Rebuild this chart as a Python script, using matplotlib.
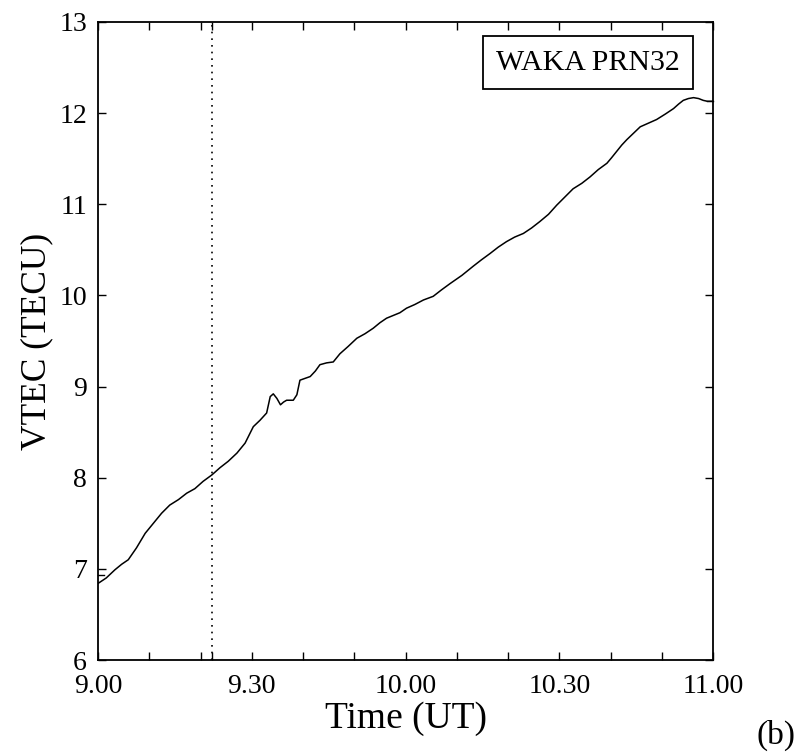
import matplotlib
matplotlib.use("Agg")
import matplotlib.pyplot as plt
import matplotlib.transforms as mtransforms
from matplotlib.ticker import FixedLocator

# VTEC time series, WAKA station, PRN32 (minutes after 09:00 UT, TECU)
minutes = [0.0, 1.6, 3.3, 4.6, 5.9, 7.5, 9.2, 10.8, 12.4, 14.0, 15.7, 17.3,
           18.9, 20.5, 22.2, 23.8, 25.4, 27.1, 28.7, 30.3, 31.6, 32.9, 33.6,
           34.2, 34.9, 35.6, 36.2, 36.8, 38.1, 38.8, 39.4, 40.4, 41.4, 42.4,
           43.3, 44.6, 45.9, 47.2, 48.8, 50.5, 52.1, 53.7, 55.0, 56.3, 57.6,
           58.9, 60.2, 61.8, 63.5, 65.4, 67.0, 68.7, 71.0, 73.2, 74.8, 76.5,
           78.1, 79.7, 81.3, 83.0, 84.6, 86.2, 87.9, 89.5, 91.1, 92.7, 94.4,
           96.0, 97.6, 99.3, 100.2, 101.2, 102.2, 103.2, 104.5, 105.8, 107.4,
           109.0, 110.7, 112.3, 113.3, 114.2, 115.2, 116.2, 117.2, 118.1,
           118.9, 120.0]
vtec = [6.84, 6.90, 6.99, 7.05, 7.10, 7.23, 7.39, 7.50, 7.61, 7.70, 7.76, 7.83,
        7.88, 7.96, 8.03, 8.11, 8.18, 8.27, 8.38, 8.56, 8.63, 8.71, 8.89,
        8.92, 8.87, 8.80, 8.83, 8.85, 8.85, 8.91, 9.07, 9.09, 9.11, 9.17,
        9.24, 9.26, 9.27, 9.36, 9.44, 9.53, 9.58, 9.64, 9.70, 9.75, 9.78,
        9.81, 9.86, 9.90, 9.95, 9.99, 10.06, 10.13, 10.22, 10.32, 10.39, 10.46,
        10.53, 10.59, 10.64, 10.68, 10.74, 10.81, 10.89, 10.99, 11.08, 11.17, 11.23,
        11.30, 11.38, 11.45, 11.51, 11.58, 11.65, 11.71, 11.78, 11.85, 11.89,
        11.93, 11.99, 12.05, 12.10, 12.14, 12.16, 12.17, 12.16, 12.14,
        12.13, 12.13]

event_minute = 22.2          # dotted marker line
label_text = "WAKA PRN32"
panel_tag = "(b)"

x_major = [0, 30, 60, 90, 120]
x_major_labels = ["9.00", "9.30", "10.00", "10.30", "11.00"]
x_minor = [10, 20, 40, 50, 70, 80, 100, 110]
y_ticks = [6, 7, 8, 9, 10, 11, 12, 13]

plt.rcParams["font.family"] = ["Liberation Serif", "DejaVu Serif"]

fig = plt.figure(figsize=(7.97, 7.53), dpi=100)
ax = fig.add_axes([0.123, 0.1235, 0.7716, 0.8473])

ax.plot(minutes, vtec, color="black", lw=1.1)
ax.axvline(event_minute, color="black", lw=1.2, ls=(0, (1, 3)))

ax.set_xlim(0, 120)
ax.set_ylim(6, 13)

ax.xaxis.set_major_locator(FixedLocator(x_major))
ax.xaxis.set_minor_locator(FixedLocator(x_minor + [event_minute]))
ax.set_xticklabels(x_major_labels)
ax.yaxis.set_major_locator(FixedLocator(y_ticks))

ax.tick_params(axis="both", which="both", direction="in", top=True, right=True,
               width=1.0, length=6, labelsize=20)
ax.tick_params(axis="y", pad=8)
ax.tick_params(axis="x", pad=10)
for sp in ax.spines.values():
    sp.set_linewidth(1.3)

ax.set_xlabel("Time (UT)", fontsize=27, labelpad=2)
ax.set_ylabel("VTEC (TECU)", fontsize=25.5, labelpad=4)

# extra marks at the series start (left) and end (right)
tr = mtransforms.blended_transform_factory(ax.transAxes, ax.transData)
ax.plot([0, 0.01], [6.93, 6.93], color="black", lw=1.0, transform=tr, clip_on=False)
ax.plot([0.99, 1.0], [vtec[-1], vtec[-1]], color="black", lw=1.0, transform=tr, clip_on=False)

ax.text(0.797, 0.9365, label_text, transform=ax.transAxes, ha="center", va="center",
        fontsize=21.5,
        bbox=dict(boxstyle="square,pad=0.45", facecolor="white",
                  edgecolor="black", linewidth=1.3))

fig.text(0.974, 0.024, panel_tag, ha="center", va="center", fontsize=24)

fig.savefig("out.png", dpi=100)
